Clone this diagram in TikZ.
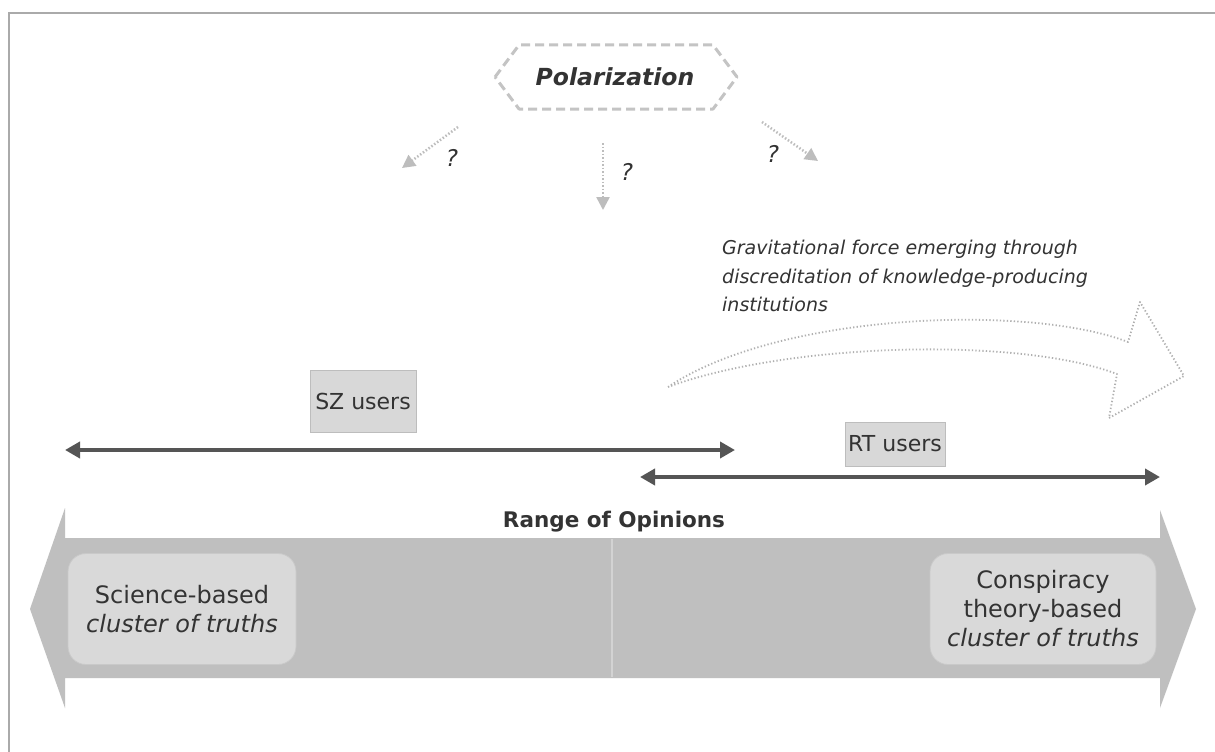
\documentclass[tikz,border=0pt]{standalone}
\usepackage{fontspec}
\setmainfont{DejaVu Sans}
\usetikzlibrary{arrows.meta,calc}
\definecolor{frame}{HTML}{AAAAAA}
\definecolor{hexc}{HTML}{C4C4C4}
\definecolor{dotc}{HTML}{BDBDBD}
\definecolor{gdot}{HTML}{B0B0B0}
\definecolor{txt}{HTML}{333333}
\definecolor{boxfill}{HTML}{D8D8D8}
\definecolor{boxdraw}{HTML}{BDBDBD}
\definecolor{darkline}{HTML}{555555}
\definecolor{bigfill}{HTML}{BFBFBF}
\definecolor{cluster}{HTML}{D9D9D9}
\definecolor{clusterdraw}{HTML}{C9C9C9}
\definecolor{divc}{HTML}{D3D3D3}
\tikzset{
  hexline/.style={draw=hexc, line width=3pt, dash pattern=on 9pt off 5pt, line join=round},
  qarrow/.style={draw=dotc, line width=2.5pt, dash pattern=on 1.5pt off 2pt, -{Triangle[length=13pt,width=13pt]}},
  qmark/.style={font=\itshape\fontsize{23}{25}\selectfont, text=txt},
  userbox/.style={fill=boxfill, draw=boxdraw, line width=0.8pt, text=txt, font=\fontsize{22}{24}\selectfont, inner sep=0pt},
  userrange/.style={draw=darkline, line width=4pt, {Triangle[length=15pt,width=16pt]}-{Triangle[length=15pt,width=16pt]}},
  clusterbox/.style={fill=cluster, draw=clusterdraw, line width=0.8pt, rounded corners=18pt, text=txt, align=center, font=\fontsize{24}{29}\selectfont, inner sep=0pt},
  gravline/.style={draw=gdot, line width=1.8pt, dash pattern=on 1.3pt off 2.2pt, line join=round}
}
\begin{document}
\begin{tikzpicture}[x=1pt,y=-1pt]
\useasboundingbox (0,0) rectangle (1215,752);
\fill[white] (0,0) rectangle (1215,752);
% frame
\draw[frame, line width=2pt] (9,752) -- (9,13) -- (1215,13);

% polarization
\node[font=\bfseries\itshape\fontsize{23.5}{26}\selectfont, text=txt] (pol) at (615,77) {Polarization};
\draw[hexline] ($(pol.center)+(-120,0)$) -- ($(pol.center)+(-96,-32)$) -- ($(pol.center)+(98,-32)$) -- ($(pol.center)+(122,0)$) -- ($(pol.center)+(98,32)$) -- ($(pol.center)+(-96,32)$) -- cycle;

% question arrows
\coordinate (q1s) at (458,127); \coordinate (q1e) at (402,168);
\coordinate (q2s) at (603,143); \coordinate (q2e) at (603,210);
\coordinate (q3s) at (762,122); \coordinate (q3e) at (818,161);
\draw[qarrow] (q1s) -- (q1e);
\draw[qarrow] (q2s) -- (q2e);
\draw[qarrow] (q3s) -- (q3e);
\node[qmark] (qm1) at (452,158) {?};
\node[qmark] (qm2) at (627,172) {?};
\node[qmark] (qm3) at (773,154) {?};

% gravitational text
\node[anchor=north west, align=left, text=txt, font=\itshape\fontsize{19}{28.5}\selectfont, inner sep=0pt] (grav) at (722,240)
  {Gravitational force emerging through\\discreditation of knowledge-producing\\institutions};

% big dotted curved arrow
\coordinate (gtail) at (668,387);
\draw[gravline] (gtail) .. controls (780,312) and (1030,304) .. (1128,342)
  -- (1140,302) -- (1184,376) -- (1109,418) -- (1117,374)
  .. controls (1020,337) and (790,342) .. (gtail);

% SZ users
\node[userbox, minimum width=106pt, minimum height=62pt] (sz) at (363,401) {SZ users};
\coordinate (sza) at (65,450); \coordinate (szb) at (735,450);
\draw[userrange] (sza) -- (szb);

% RT users
\node[userbox, minimum width=100pt, minimum height=44pt] (rt) at (895,444) {RT users};
\coordinate (rta) at (640,477); \coordinate (rtb) at (1160,477);
\draw[userrange] (rta) -- (rtb);

% big double arrow
\fill[bigfill] (30,609) -- (65,508) -- (65,538) -- (1160,538) -- (1160,510) -- (1196,609)
  -- (1160,708) -- (1160,678) -- (65,678) -- (65,708) -- cycle;
\draw[divc, line width=1.5pt] (612,539) -- (612,677);
\node[font=\bfseries\fontsize{21.5}{24}\selectfont, text=txt] (ro) at (614,522) {Range of Opinions};

% clusters
\node[clusterbox, minimum width=228pt, minimum height=111pt] (sci) at (182,609)
  {Science-based\\\itshape cluster of truths};
\node[clusterbox, minimum width=226pt, minimum height=111pt] (con) at (1043,609)
  {Conspiracy\\theory-based\\\itshape cluster of truths};
\end{tikzpicture}
\end{document}
